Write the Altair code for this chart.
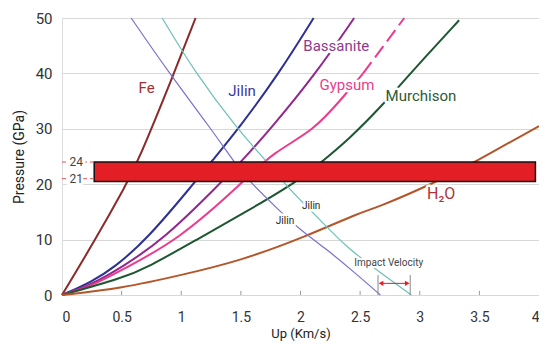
import altair as alt
import pandas as pd

# ---- data ----
fe_x = [0, 0.28, 0.54, 0.636, 0.94, 1.12]
fe_y = [0, 10, 20, 24, 40, 50]
jilin_x = [0, 0.25, 0.44, 0.71, 1.1, 1.25, 1.48, 1.82, 2.11]
jilin_y = [0, 2.4, 5, 10, 20, 24, 30, 40, 50]
bass_x = [0, 0.25, 0.5, 0.85, 1.32, 1.5, 1.75, 2.13, 2.45]
bass_y = [0, 1.9, 5, 10, 20, 24, 30, 40, 50]
gyp_x = [0, 0.25, 0.5, 0.98, 1.5, 1.77, 2.11, 2.36, 2.525]
gyp_y = [0, 1.6, 4.5, 10, 20, 25.8, 29.6, 35.8, 40]
gyp_top_x = [2.525, 2.87]
gyp_top_y = [40, 50]
murch_x = [0, 0.5, 0.72, 1.13, 1.55, 1.99, 2.18, 2.4, 2.69, 2.92, 3.33]
murch_y = [0, 3.0, 5, 10, 15.1, 20.7, 24.1, 28, 34.3, 40, 49.6]
h2o_x = [0, 0.5, 1.0, 1.5, 2.04, 2.51, 2.625, 3.15, 3.46, 4.0]
h2o_y = [0, 1.2, 3.6, 6.2, 10.5, 15.0, 15.6, 20.5, 24, 30.5]
mirror1_x = [0.58, 0.9, 1.25, 1.44, 1.57, 1.82, 1.99, 2.21, 2.43, 2.67]
mirror1_y = [50, 40, 30, 24.1, 20.5, 15.3, 11.9, 8.4, 4.5, 0]
mirror2_x = [0.84, 1.12, 1.47, 1.72, 1.85, 2.0, 2.125, 2.40, 2.68, 2.93]
mirror2_y = [50, 40, 30, 24, 20.5, 17.1, 14.4, 8.3, 3.9, 0]

series_names = ["Fe", "Jilin", "Bassanite", "Gypsum", "Murchison", "H2O", "Jilin mirror 1", "Jilin mirror 2"]
series_colors = ["#8B2A2A", "#2E3192", "#92278F", "#EC3B8E", "#1E5631", "#B5562A", "#7A6FD0", "#6CC0B5"]

# labels
lab_text = ["Fe", "Jilin", "Bassanite", "Gypsum", "Murchison", "H₂O", "Jilin", "Jilin"]
lab_x = [0.71, 1.51, 2.3, 2.39, 3.01, 3.18, 2.09, 1.87]
lab_y = [37.4, 36.8, 44.9, 37.9, 35.9, 18.2, 16.1, 13.4]
lab_color = ["#A03030", "#3A3AA0", "#8E3A8E", "#E8408E", "#2E5A34", "#B0333A", "#222222", "#222222"]
lab_size = [15, 15, 15, 15, 15, 16, 10, 10]

# pressure band
band_x = [0.27]
band_x2 = [3.97]
band_y = [20.5]
band_y2 = [24]
band_marks = [24, 21]

# impact velocity
iv_x = [2.65, 2.92]
iv_top = 3.6
arrow_y = 2.1
iv_label_x, iv_label_y = 2.74, 5.8

x_ticks = [0, 0.5, 1, 1.5, 2, 2.5, 3, 3.5, 4]
y_ticks = [0, 10, 20, 30, 40, 50]

FONT = "Roboto"
INTERP = "basis"

rows = []
def add(name, xs, ys, seg):
    for i, (a, b) in enumerate(zip(xs, ys)):
        rows.append({"series": name, "seg": seg, "x": a, "y": b, "o": i})

add("Fe", fe_x, fe_y, "Fe")
add("Jilin", jilin_x, jilin_y, "Jilin")
add("Bassanite", bass_x, bass_y, "Bassanite")
add("Gypsum", gyp_x, gyp_y, "Gypsum")
add("Murchison", murch_x, murch_y, "Murchison")
add("H2O", h2o_x, h2o_y, "H2O")
lines = pd.DataFrame(rows)

rows = []
add("Jilin mirror 1", mirror1_x, mirror1_y, "m1")
add("Jilin mirror 2", mirror2_x, mirror2_y, "m2")
thin = pd.DataFrame(rows)

rows = []
add("Gypsum", gyp_top_x, gyp_top_y, "gtop")
gtop = pd.DataFrame(rows)

color_scale = alt.Scale(domain=series_names, range=series_colors)
xs = alt.Scale(domain=[0, 4], nice=False, zero=False)
ys = alt.Scale(domain=[0, 50], nice=False)

xaxis = alt.Axis(values=x_ticks, format="~g", title="Up (Km/s)", grid=False, domain=False,
                 ticks=False, labelFontSize=14, labelColor="#333", labelPadding=15,
                 titleFontSize=13, titleFontWeight="normal", titleColor="#222", titlePadding=3,
                 labelFont=FONT, titleFont=FONT)
yaxis = alt.Axis(values=y_ticks, title="Pressure (GPa)", grid=True, gridColor="#d8d8d8",
                 gridWidth=1, domain=False, ticks=False, labelFontSize=15, labelColor="#333",
                 labelPadding=10, titleFontSize=14, titleFontWeight="normal", titleColor="#222",
                 titlePadding=9, labelFont=FONT, titleFont=FONT)

base_x = alt.X("x:Q", scale=xs, axis=xaxis)
base_y = alt.Y("y:Q", scale=ys, axis=yaxis)

thick = alt.Chart(lines).mark_line(strokeWidth=2, interpolate=INTERP).encode(
    x=base_x, y=base_y,
    color=alt.Color("series:N", scale=color_scale, legend=None),
    detail="seg:N", order="o:Q")

thin_l = alt.Chart(thin).mark_line(strokeWidth=1.2, interpolate=INTERP).encode(
    x="x:Q", y="y:Q",
    color=alt.Color("series:N", scale=color_scale, legend=None),
    detail="seg:N", order="o:Q")

gtop_l = alt.Chart(gtop).mark_line(strokeWidth=2, strokeDash=[14, 6]).encode(
    x="x:Q", y="y:Q", color=alt.Color("series:N", scale=color_scale, legend=None))

# x ticks inside
tick_df = pd.DataFrame({"x": x_ticks[1:-1]})
xticks_in = alt.Chart(tick_df).mark_rule(color="#999", strokeWidth=1).encode(
    x="x:Q", y=alt.datum(0), y2=alt.datum(0.75))

# band
band_df = pd.DataFrame({"x": band_x, "x2": band_x2, "y": band_y, "y2": band_y2})
band = alt.Chart(band_df).mark_rect(color="#E31E24", stroke="#111", strokeWidth=1.5).encode(
    x="x:Q", x2="x2:Q", y="y:Q", y2="y2:Q")

bm_df = pd.DataFrame({"y": band_marks, "x": [0.0, 0.0], "x2": [band_x[0], band_x[0]],
                      "t": [str(v) for v in band_marks], "tx": [0.12, 0.12]})
bm_rule = alt.Chart(bm_df).mark_rule(color="#E8505A", strokeWidth=1, strokeDash=[4, 3]).encode(
    x="x:Q", x2="x2:Q", y="y:Q")
bm_halo = alt.Chart(bm_df).mark_text(font=FONT, fontSize=12, stroke="white", strokeWidth=5,
                                     color="white").encode(x="tx:Q", y="y:Q", text="t:N")
bm_text = alt.Chart(bm_df).mark_text(font=FONT, fontSize=12, color="#444").encode(
    x="tx:Q", y="y:Q", text="t:N")

# labels
lab_df = pd.DataFrame({"t": lab_text, "x": lab_x, "y": lab_y, "c": lab_color, "s": lab_size})
lab_halo = alt.Chart(lab_df).mark_text(font=FONT, stroke="white", strokeWidth=5,
                                       strokeJoin="round", color="white").encode(
    x="x:Q", y="y:Q", text="t:N", size=alt.Size("s:Q", scale=None, legend=None))
lab_t = alt.Chart(lab_df).mark_text(font=FONT).encode(
    x="x:Q", y="y:Q", text="t:N", color=alt.Color("c:N", scale=None),
    size=alt.Size("s:Q", scale=None, legend=None))

# impact velocity
iv_df = pd.DataFrame({"x": iv_x, "y": [0, 0], "y2": [iv_top, iv_top]})
iv_rules = alt.Chart(iv_df).mark_rule(color="#888", strokeWidth=1).encode(
    x="x:Q", y="y:Q", y2="y2:Q")
arr_df = pd.DataFrame({"x": [iv_x[0] + 0.03], "x2": [iv_x[1] - 0.03], "y": [arrow_y]})
arr_line = alt.Chart(arr_df).mark_rule(color="#E31E24", strokeWidth=1).encode(
    x="x:Q", x2="x2:Q", y="y:Q")
head_df = pd.DataFrame({"x": [iv_x[0] + 0.025, iv_x[1] - 0.025], "y": [arrow_y, arrow_y],
                        "sh": ["triangle-left", "triangle-right"]})
heads = alt.Chart(head_df).mark_point(filled=True, color="#E31E24", size=30, opacity=1).encode(
    x="x:Q", y="y:Q", shape=alt.Shape("sh:N", scale=None, legend=None))
iv_lab_df = pd.DataFrame({"t": ["Impact Velocity"], "x": [iv_label_x], "y": [iv_label_y]})
iv_halo = alt.Chart(iv_lab_df).mark_text(font=FONT, fontSize=10, stroke="white", strokeWidth=4,
                                         color="white").encode(x="x:Q", y="y:Q", text="t:N")
iv_text = alt.Chart(iv_lab_df).mark_text(font=FONT, fontSize=10, color="#444").encode(
    x="x:Q", y="y:Q", text="t:N")

chart = alt.layer(
    thick, thin_l, gtop_l, xticks_in, iv_rules, arr_line, heads,
    band, bm_rule, bm_halo, bm_text, lab_halo, lab_t, iv_halo, iv_text
).resolve_scale(color="independent").properties(
    width=477, height=277,
    padding={"left": 54, "top": 10, "right": 0, "bottom": 47},
    autosize=alt.AutoSizeParams(type="none"),
).configure_view(stroke="#111", strokeWidth=2).configure(background="white")

chart.save("out.html", embed_options={"renderer": "svg", "actions": False})
